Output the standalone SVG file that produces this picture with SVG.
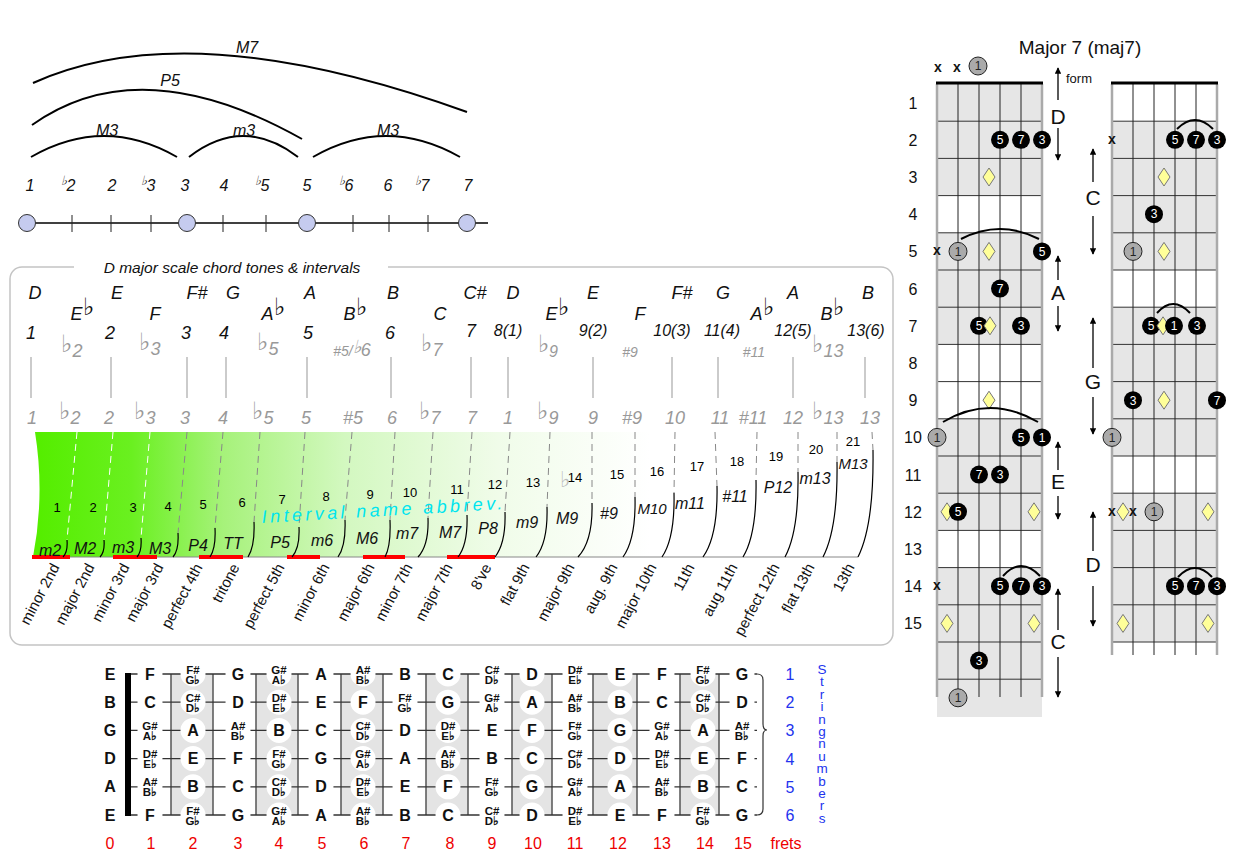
<svg xmlns="http://www.w3.org/2000/svg" width="1242" height="858" viewBox="0 0 1242 858">
<defs>
<style>
text{font-family:"Liberation Sans",Arial,sans-serif}
.ri{font-style:italic;font-size:16px;fill:#111;text-anchor:middle}
.arc{fill:none;stroke:#000;stroke-width:2}
.tick{stroke:#222;stroke-width:1}
.dot{fill:#c5cbef;stroke:#333;stroke-width:1}
.nn{font-style:italic;font-size:18px;fill:#111;text-anchor:middle}
.nc{font-style:italic;font-size:16px;fill:#111;text-anchor:middle}
.gr{font-style:italic;font-size:18px;fill:#999;text-anchor:middle}
.grs{font-style:italic;font-size:14px;fill:#999;text-anchor:middle}
.fl{font-size:24px;font-style:normal}
.vl{stroke:#bbb;stroke-width:1.5}
.dash{stroke:#888;stroke-width:1;stroke-dasharray:7 5;fill:none}
.dashw{stroke:#fff;stroke-width:1;stroke-dasharray:7 5;fill:none}
.sol{stroke:#000;stroke-width:1.2;fill:none}
.sn{font-size:13px;fill:#000;text-anchor:middle}
.ab{font-style:italic;font-size:16px;fill:#111;text-anchor:middle}
.fn{font-size:15px;fill:#111;text-anchor:end}
.red{stroke:#f00;stroke-width:4}
.fb{font-weight:bold;font-size:16px;fill:#111;text-anchor:middle}
.fs{font-weight:bold;font-size:11.5px;fill:#111;text-anchor:middle}
.fnum{font-size:16px;fill:#e00;text-anchor:middle}
.blu{font-size:16px;fill:#2233ee;text-anchor:middle}
.rn{font-size:16px;fill:#111;text-anchor:middle}
.bk circle{fill:#000}
.bk text{fill:#fff;font-size:12px;text-anchor:middle}
.gy circle{fill:#aaa;stroke:#222;stroke-width:1}
.gy text{fill:#222;font-size:12px;text-anchor:middle}
.xm{font-weight:bold;font-size:14px;fill:#111;text-anchor:middle}
.big{font-size:21px;fill:#111;text-anchor:middle}
.ar{stroke:#000;stroke-width:1.3;marker-end:url(#ah)}
.gl{stroke:#333;stroke-width:1;fill:none}
</style>
<linearGradient id="grn" gradientUnits="userSpaceOnUse" x1="40" y1="0" x2="650" y2="0">
<stop offset="0" stop-color="#55ee00"/>
<stop offset="0.15" stop-color="#6af020"/>
<stop offset="0.3" stop-color="#a6f27a"/>
<stop offset="0.5" stop-color="#d3f8c0"/>
<stop offset="0.75" stop-color="#f0fce9"/>
<stop offset="1" stop-color="#ffffff"/>
</linearGradient>
<marker id="ah" viewBox="0 0 10 10" refX="9" refY="5" markerWidth="5" markerHeight="5" orient="auto"><path d="M0,0L10,5L0,10z" fill="#000"/></marker>
<polygon id="dia" points="0,-9 6,0 0,9 -6,0" fill="#ffff99" stroke="#777" stroke-width="1"/>
</defs>
<rect width="1242" height="858" fill="#fff"/>

<g id="interval-ruler">
<path class="arc" d="M33,83 Q190,12 467,112"/>
<path class="arc" d="M32,125 Q140,48 302,139"/>
<path class="arc" d="M31,157 Q104,115 177,157"/>
<path class="arc" d="M189,157 Q243,115 298,157"/>
<path class="arc" d="M313,157 Q386,115 460,157"/>
<text class="ri" x="247" y="53">M7</text>
<text class="ri" x="170" y="86">P5</text>
<text class="ri" x="107" y="136">M3</text>
<text class="ri" x="244" y="136">m3</text>
<text class="ri" x="388" y="136">M3</text>
<text class="ri" x="30" y="191">1</text>
<text class="ri" x="68" y="191"><tspan font-size="13" dy="-6">♭</tspan><tspan dy="6">2</tspan></text>
<text class="ri" x="112" y="191">2</text>
<text class="ri" x="148" y="191"><tspan font-size="13" dy="-6">♭</tspan><tspan dy="6">3</tspan></text>
<text class="ri" x="185" y="191">3</text>
<text class="ri" x="224" y="191">4</text>
<text class="ri" x="262" y="191"><tspan font-size="13" dy="-6">♭</tspan><tspan dy="6">5</tspan></text>
<text class="ri" x="307" y="191">5</text>
<text class="ri" x="346" y="191"><tspan font-size="13" dy="-6">♭</tspan><tspan dy="6">6</tspan></text>
<text class="ri" x="388" y="191">6</text>
<text class="ri" x="422" y="191"><tspan font-size="13" dy="-6">♭</tspan><tspan dy="6">7</tspan></text>
<text class="ri" x="468" y="191">7</text>
<line x1="27" y1="223" x2="488" y2="223" stroke="#000" stroke-width="1.5"/>
<path class="tick" d="M72,215V232M111,215V232M151,215V232M223,215V232M266,215V232M353,215V232M389,215V232M428,215V232"/>
<circle class="dot" cx="27" cy="223" r="8.5"/>
<circle class="dot" cx="187" cy="223" r="8.5"/>
<circle class="dot" cx="307" cy="223" r="8.5"/>
<circle class="dot" cx="467" cy="223" r="8.5"/>
</g>

<g id="scale-box">
<rect x="10" y="267" width="883" height="378" rx="12" fill="none" stroke="#c4c4c4" stroke-width="1.5"/>
<rect x="74" y="258" width="314" height="18" fill="#fff"/>
<text x="232" y="273" style="font-style:italic;font-size:15.5px;fill:#111;text-anchor:middle">D major scale chord tones &amp; intervals</text>

<text class="nn" x="35" y="299">D</text>
<text class="nn" x="117" y="299">E</text>
<text class="nn" x="197" y="299">F#</text>
<text class="nn" x="233" y="299">G</text>
<text class="nn" x="310" y="299">A</text>
<text class="nn" x="393" y="299">B</text>
<text class="nn" x="475" y="299">C#</text>
<text class="nn" x="513" y="299">D</text>
<text class="nn" x="593" y="299">E</text>
<text class="nn" x="682" y="299">F#</text>
<text class="nn" x="723" y="299">G</text>
<text class="nn" x="793" y="299">A</text>
<text class="nn" x="868" y="299">B</text>

<text class="nn" x="82" y="320">E<tspan class="fl" dy="-5">♭</tspan></text>
<text class="nn" x="155" y="320">F</text>
<text class="nn" x="273" y="320">A<tspan class="fl" dy="-5">♭</tspan></text>
<text class="nn" x="355" y="320">B<tspan class="fl" dy="-5">♭</tspan></text>
<text class="nn" x="440" y="320">C</text>
<text class="nn" x="557" y="320">E<tspan class="fl" dy="-5">♭</tspan></text>
<text class="nn" x="640" y="320">F</text>
<text class="nn" x="762" y="320">A<tspan class="fl" dy="-5">♭</tspan></text>
<text class="nn" x="832" y="320">B<tspan class="fl" dy="-5">♭</tspan></text>

<text class="nn" x="31" y="339">1</text>
<text class="nn" x="110" y="339">2</text>
<text class="nn" x="186" y="339">3</text>
<text class="nn" x="224" y="339">4</text>
<text class="nn" x="308" y="339">5</text>
<text class="nn" x="390" y="339">6</text>
<text class="nn" x="471" y="337">7</text>
<text class="nc" x="508" y="336">8(1)</text>
<text class="nc" x="593" y="336">9(2)</text>
<text class="nc" x="672" y="336">10(3)</text>
<text class="nc" x="722" y="336">11(4)</text>
<text class="nc" x="793" y="336">12(5)</text>
<text class="nc" x="866" y="336">13(6)</text>

<text class="gr" x="72" y="357"><tspan class="fl" dy="-5">♭</tspan><tspan dy="5">2</tspan></text>
<text class="gr" x="150" y="355"><tspan class="fl" dy="-5">♭</tspan><tspan dy="5">3</tspan></text>
<text class="gr" x="268" y="355"><tspan class="fl" dy="-5">♭</tspan><tspan dy="5">5</tspan></text>
<text class="grs" x="352" y="356">#5/<tspan dy="-3" font-size="18px">♭</tspan><tspan dy="3" font-size="18">6</tspan></text>
<text class="gr" x="432" y="356"><tspan class="fl" dy="-5">♭</tspan><tspan dy="5">7</tspan></text>
<text class="gr" x="548" y="357"><tspan class="fl" dy="-5">♭</tspan><tspan dy="5" font-size="16">9</tspan></text>
<text class="grs" x="630" y="357">#9</text>
<text class="grs" x="754" y="357">#11</text>
<text class="gr" x="828" y="357"><tspan class="fl" dy="-5">♭</tspan><tspan dy="5">13</tspan></text>

<path class="vl" d="M31,357V398M111,357V398M187,357V398M226,357V398M307,357V398M391,357V398M471,357V398M508,357V398M593,357V398M672,357V398M718,357V398M793,357V398M865,357V398"/>

<text class="gr" x="32" y="424">1</text>
<text class="gr" x="70" y="424"><tspan class="fl" dy="-5">♭</tspan><tspan dy="5">2</tspan></text>
<text class="gr" x="109" y="424">2</text>
<text class="gr" x="145" y="424"><tspan class="fl" dy="-5">♭</tspan><tspan dy="5">3</tspan></text>
<text class="gr" x="185" y="424">3</text>
<text class="gr" x="223" y="424">4</text>
<text class="gr" x="263" y="424"><tspan class="fl" dy="-5">♭</tspan><tspan dy="5">5</tspan></text>
<text class="gr" x="306" y="424">5</text>
<text class="gr" x="353" y="424">#5</text>
<text class="gr" x="392" y="424">6</text>
<text class="gr" x="430" y="424"><tspan class="fl" dy="-5">♭</tspan><tspan dy="5">7</tspan></text>
<text class="gr" x="472" y="424">7</text>
<text class="gr" x="508" y="424">1</text>
<text class="gr" x="548" y="424"><tspan class="fl" dy="-5">♭</tspan><tspan dy="5">9</tspan></text>
<text class="gr" x="593" y="424">9</text>
<text class="gr" x="632" y="424">#9</text>
<text class="gr" x="675" y="424">10</text>
<text class="gr" x="720" y="424">11</text>
<text class="gr" x="753" y="424">#11</text>
<text class="gr" x="793" y="424">12</text>
<text class="gr" x="828" y="424"><tspan class="fl" dy="-5">♭</tspan><tspan dy="5">13</tspan></text>
<text class="gr" x="870" y="424">13</text>
</g>

<g id="interval-fan">
<path d="M35,432 L880,432 L880,557 L33,557 Q45,495 35,432 Z" fill="url(#grn)"/>
<line x1="33" y1="557" x2="858" y2="557" stroke="#888" stroke-width="1"/>
<path class="red" d="M32,557H70M113,557H157M199,557H243M287,557H320M363,557H405M447,557H495"/>
<path class="dashw" d="M77,432L67,540M113,432L104,540M150,432L141,538"/>
<path class="dash" d="M187,432L178,533M223,432L215,528M260,432L254,522M305,432L299,527M352,432L345,520M395,432L390,520M433,432L428,518M472,432L467,515M510,432L505,512M550,432L547,507M592,432L592,503M635,432L635,497M675,432L674,493M715,432L717,486M757,432L756,480M798,432L798,472M837,432L837,462M872,432L873,450"/>
<path class="sol" d="M67,540Q68,552 63,557M104,540Q105,552 100,557M141,538Q142,551 137,557M178,533Q179,550 173,557M215,528Q216,548 210,557M254,522Q255,546 248,557M299,527Q300,548 292,557M345,520Q346,546 338,557M390,520Q391,546 385,557M428,518Q429,545 418,557M467,515Q468,544 458,557M505,512Q506,543 495,557M547,507Q548,542 536,557M592,503Q593,541 578,557M635,497Q636,539 623,557M674,493Q675,538 662,557M717,486Q718,536 703,557M756,480Q757,534 743,557M798,472Q799,531 785,557M837,462Q838,528 823,557M873,450Q874,525 858,557"/>
<text class="sn" x="57" y="512">1</text>
<text class="sn" x="93" y="512">2</text>
<text class="sn" x="133" y="512">3</text>
<text class="sn" x="168" y="511">4</text>
<text class="sn" x="203" y="509">5</text>
<text class="sn" x="242" y="507">6</text>
<text class="sn" x="282" y="504">7</text>
<text class="sn" x="326" y="501">8</text>
<text class="sn" x="370" y="499">9</text>
<text class="sn" x="410" y="497">10</text>
<text class="sn" x="457" y="494">11</text>
<text class="sn" x="495" y="489">12</text>
<text class="sn" x="533" y="487">13</text>
<text x="565" y="487" style="font-size:22px;fill:#bbb;text-anchor:middle">♭</text>
<text class="sn" x="575" y="482">14</text>
<text class="sn" x="617" y="479">15</text>
<text class="sn" x="657" y="476">16</text>
<text class="sn" x="697" y="471">17</text>
<text class="sn" x="737" y="466">18</text>
<text class="sn" x="776" y="461">19</text>
<text class="sn" x="816" y="454">20</text>
<text class="sn" x="853" y="446">21</text>
<text x="384" y="516" transform="rotate(-3.3 384 516)" style="font-style:italic;font-size:18px;fill:#00e5ee;text-anchor:middle;letter-spacing:3.4px">Interval name abbrev.</text>
<text class="ab" x="50" y="556">m2</text>
<text class="ab" x="85" y="554">M2</text>
<text class="ab" x="123" y="553">m3</text>
<text class="ab" x="160" y="554">M3</text>
<text class="ab" x="198" y="551">P4</text>
<text class="ab" x="233" y="549">TT</text>
<text class="ab" x="280" y="548">P5</text>
<text class="ab" x="322" y="546">m6</text>
<text class="ab" x="367" y="544">M6</text>
<text class="ab" x="407" y="539">m7</text>
<text class="ab" x="450" y="538">M7</text>
<text class="ab" x="488" y="534">P8</text>
<text class="ab" x="527" y="528">m9</text>
<text class="ab" x="567" y="524">M9</text>
<text class="ab" x="609" y="519">#9</text>
<text class="ab" x="652" y="514" style="font-size:15px">M10</text>
<text class="ab" x="690" y="509">m11</text>
<text class="ab" x="735" y="502">#11</text>
<text class="ab" x="778" y="493">P12</text>
<text class="ab" x="815" y="484">m13</text>
<text class="ab" x="853" y="469" style="font-size:15px">M13</text>
<text class="fn" transform="translate(60,567) rotate(-62)">minor 2nd</text>
<text class="fn" transform="translate(95,567) rotate(-62)">major 2nd</text>
<text class="fn" transform="translate(130,567) rotate(-62)">minor 3rd</text>
<text class="fn" transform="translate(164,567) rotate(-62)">major 3rd</text>
<text class="fn" transform="translate(203,567) rotate(-62)">perfect 4th</text>
<text class="fn" transform="translate(240,567) rotate(-62)">tritone</text>
<text class="fn" transform="translate(285,567) rotate(-62)">perfect 5th</text>
<text class="fn" transform="translate(330,567) rotate(-62)">minor 6th</text>
<text class="fn" transform="translate(375,567) rotate(-62)">major 6th</text>
<text class="fn" transform="translate(413,567) rotate(-62)">minor 7th</text>
<text class="fn" transform="translate(453,567) rotate(-62)">major 7th</text>
<text class="fn" transform="translate(492,567) rotate(-62)">8've</text>
<text class="fn" transform="translate(530,567) rotate(-62)">flat 9th</text>
<text class="fn" transform="translate(575,567) rotate(-62)">major 9th</text>
<text class="fn" transform="translate(618,567) rotate(-62)">aug. 9th</text>
<text class="fn" transform="translate(657,567) rotate(-62)">major 10th</text>
<text class="fn" transform="translate(695,567) rotate(-62)">11th</text>
<text class="fn" transform="translate(738,567) rotate(-62)">aug 11th</text>
<text class="fn" transform="translate(780,567) rotate(-62)">perfect 12th</text>
<text class="fn" transform="translate(815,567) rotate(-62)">flat 13th</text>
<text class="fn" transform="translate(855,567) rotate(-62)">13th</text>
</g>

<g id="fretboard">
<path fill="#e4e4e4" d="M171,674H213V815H171ZM256,674H298V815H256ZM341,674H383V815H341ZM426,674H468V815H426ZM512,674H552V815H512ZM593,674H637V815H593ZM680,674H719V815H680Z"/>
<path stroke="#555" stroke-width="1.5" d="M171,674V815M213,674V815M256,674V815M298,674V815M341,674V815M383,674V815M426,674V815M468,674V815M512,674V815M552,674V815M593,674V815M637,674V815M680,674V815M719,674V815"/>
<path stroke="#333" stroke-width="1.3" d="M128,674H757M128,702.2H757M128,730.4H757M128,758.6H757M128,786.8H757M128,815H757"/>
<path fill="none" stroke="#333" stroke-width="1.2" d="M757,674q6,0 6,6v44q0,6 4,6q-4,0 -4,6v73q0,6 -6,6"/>
<path stroke="#fff" stroke-width="25" stroke-linecap="round" stroke-dasharray="0 28.2" d="M150,674V816M193,674V816M238,674V816M279,674V816M321,674V816M363,674V816M405,674V816M448,674V816M492,674V816M532,674V816M575,674V816M620,674V816M662,674V816M703,674V816M742,674V816"/>
<rect x="125" y="673" width="6" height="143" fill="#000"/>
<text class="fb" x="110" y="680">E</text>
<text class="fb" x="110" y="708">B</text>
<text class="fb" x="110" y="736">G</text>
<text class="fb" x="110" y="764">D</text>
<text class="fb" x="110" y="792">A</text>
<text class="fb" x="110" y="821">E</text>

<text class="fb" x="150" y="680">F</text>
<text class="fs" x="193" y="674">F#</text><text class="fs" x="193" y="684">G♭</text>
<text class="fb" x="238" y="680">G</text>
<text class="fs" x="279" y="674">G#</text><text class="fs" x="279" y="684">A♭</text>
<text class="fb" x="321" y="680">A</text>
<text class="fs" x="363" y="674">A#</text><text class="fs" x="363" y="684">B♭</text>
<text class="fb" x="405" y="680">B</text>
<text class="fb" x="448" y="680">C</text>
<text class="fs" x="492" y="674">C#</text><text class="fs" x="492" y="684">D♭</text>
<text class="fb" x="532" y="680">D</text>
<text class="fs" x="575" y="674">D#</text><text class="fs" x="575" y="684">E♭</text>
<text class="fb" x="620" y="680">E</text>
<text class="fb" x="662" y="680">F</text>
<text class="fs" x="703" y="674">F#</text><text class="fs" x="703" y="684">G♭</text>
<text class="fb" x="742" y="680">G</text>

<text class="fb" x="150" y="708">C</text>
<text class="fs" x="193" y="702">C#</text><text class="fs" x="193" y="712">D♭</text>
<text class="fb" x="238" y="708">D</text>
<text class="fs" x="279" y="702">D#</text><text class="fs" x="279" y="712">E♭</text>
<text class="fb" x="321" y="708">E</text>
<text class="fb" x="363" y="708">F</text>
<text class="fs" x="405" y="702">F#</text><text class="fs" x="405" y="712">G♭</text>
<text class="fb" x="448" y="708">G</text>
<text class="fs" x="492" y="702">G#</text><text class="fs" x="492" y="712">A♭</text>
<text class="fb" x="532" y="708">A</text>
<text class="fs" x="575" y="702">A#</text><text class="fs" x="575" y="712">B♭</text>
<text class="fb" x="620" y="708">B</text>
<text class="fb" x="662" y="708">C</text>
<text class="fs" x="703" y="702">C#</text><text class="fs" x="703" y="712">D♭</text>
<text class="fb" x="742" y="708">D</text>

<text class="fs" x="150" y="730">G#</text><text class="fs" x="150" y="740">A♭</text>
<text class="fb" x="193" y="736">A</text>
<text class="fs" x="238" y="730">A#</text><text class="fs" x="238" y="740">B♭</text>
<text class="fb" x="279" y="736">B</text>
<text class="fb" x="321" y="736">C</text>
<text class="fs" x="363" y="730">C#</text><text class="fs" x="363" y="740">D♭</text>
<text class="fb" x="405" y="736">D</text>
<text class="fs" x="448" y="730">D#</text><text class="fs" x="448" y="740">E♭</text>
<text class="fb" x="492" y="736">E</text>
<text class="fb" x="532" y="736">F</text>
<text class="fs" x="575" y="730">F#</text><text class="fs" x="575" y="740">G♭</text>
<text class="fb" x="620" y="736">G</text>
<text class="fs" x="662" y="730">G#</text><text class="fs" x="662" y="740">A♭</text>
<text class="fb" x="703" y="736">A</text>
<text class="fs" x="742" y="730">A#</text><text class="fs" x="742" y="740">B♭</text>

<text class="fs" x="150" y="758">D#</text><text class="fs" x="150" y="768">E♭</text>
<text class="fb" x="193" y="764">E</text>
<text class="fb" x="238" y="764">F</text>
<text class="fs" x="279" y="758">F#</text><text class="fs" x="279" y="768">G♭</text>
<text class="fb" x="321" y="764">G</text>
<text class="fs" x="363" y="758">G#</text><text class="fs" x="363" y="768">A♭</text>
<text class="fb" x="405" y="764">A</text>
<text class="fs" x="448" y="758">A#</text><text class="fs" x="448" y="768">B♭</text>
<text class="fb" x="492" y="764">B</text>
<text class="fb" x="532" y="764">C</text>
<text class="fs" x="575" y="758">C#</text><text class="fs" x="575" y="768">D♭</text>
<text class="fb" x="620" y="764">D</text>
<text class="fs" x="662" y="758">D#</text><text class="fs" x="662" y="768">E♭</text>
<text class="fb" x="703" y="764">E</text>
<text class="fb" x="742" y="764">F</text>

<text class="fs" x="150" y="786">A#</text><text class="fs" x="150" y="796">B♭</text>
<text class="fb" x="193" y="792">B</text>
<text class="fb" x="238" y="792">C</text>
<text class="fs" x="279" y="786">C#</text><text class="fs" x="279" y="796">D♭</text>
<text class="fb" x="321" y="792">D</text>
<text class="fs" x="363" y="786">D#</text><text class="fs" x="363" y="796">E♭</text>
<text class="fb" x="405" y="792">E</text>
<text class="fb" x="448" y="792">F</text>
<text class="fs" x="492" y="786">F#</text><text class="fs" x="492" y="796">G♭</text>
<text class="fb" x="532" y="792">G</text>
<text class="fs" x="575" y="786">G#</text><text class="fs" x="575" y="796">A♭</text>
<text class="fb" x="620" y="792">A</text>
<text class="fs" x="662" y="786">A#</text><text class="fs" x="662" y="796">B♭</text>
<text class="fb" x="703" y="792">B</text>
<text class="fb" x="742" y="792">C</text>

<text class="fb" x="150" y="821">F</text>
<text class="fs" x="193" y="815">F#</text><text class="fs" x="193" y="825">G♭</text>
<text class="fb" x="238" y="821">G</text>
<text class="fs" x="279" y="815">G#</text><text class="fs" x="279" y="825">A♭</text>
<text class="fb" x="321" y="821">A</text>
<text class="fs" x="363" y="815">A#</text><text class="fs" x="363" y="825">B♭</text>
<text class="fb" x="405" y="821">B</text>
<text class="fb" x="448" y="821">C</text>
<text class="fs" x="492" y="815">C#</text><text class="fs" x="492" y="825">D♭</text>
<text class="fb" x="532" y="821">D</text>
<text class="fs" x="575" y="815">D#</text><text class="fs" x="575" y="825">E♭</text>
<text class="fb" x="620" y="821">E</text>
<text class="fb" x="662" y="821">F</text>
<text class="fs" x="703" y="815">F#</text><text class="fs" x="703" y="825">G♭</text>
<text class="fb" x="742" y="821">G</text>

<text class="fnum" x="110" y="849">0</text>
<text class="fnum" x="151" y="849">1</text>
<text class="fnum" x="193" y="849">2</text>
<text class="fnum" x="238" y="849">3</text>
<text class="fnum" x="279" y="849">4</text>
<text class="fnum" x="322" y="849">5</text>
<text class="fnum" x="364" y="849">6</text>
<text class="fnum" x="406" y="849">7</text>
<text class="fnum" x="450" y="849">8</text>
<text class="fnum" x="492" y="849">9</text>
<text class="fnum" x="533" y="849">10</text>
<text class="fnum" x="575" y="849">11</text>
<text class="fnum" x="618" y="849">12</text>
<text class="fnum" x="662" y="849">13</text>
<text class="fnum" x="705" y="849">14</text>
<text class="fnum" x="743" y="849">15</text>
<text class="fnum" x="786" y="849">frets</text>

<text class="blu" x="790" y="680">1</text>
<text class="blu" x="790" y="708">2</text>
<text class="blu" x="790" y="736">3</text>
<text class="blu" x="790" y="765">4</text>
<text class="blu" x="790" y="793">5</text>
<text class="blu" x="790" y="821">6</text>
<text x="822" y="662" style="writing-mode:vertical-rl;text-orientation:upright;font-size:13.5px;letter-spacing:-2.6px;fill:#2233ee">Stringnumbers</text>
</g>

<g id="chord-title">
<text x="1080" y="54" style="font-size:19px;fill:#111;text-anchor:middle">Major 7 (maj7)</text>
</g>

<g id="fret-numbers">
<text class="rn" x="913" y="109">1</text>
<text class="rn" x="913" y="146">2</text>
<text class="rn" x="913" y="183">3</text>
<text class="rn" x="913" y="220">4</text>
<text class="rn" x="913" y="257">5</text>
<text class="rn" x="913" y="295">6</text>
<text class="rn" x="913" y="332">7</text>
<text class="rn" x="913" y="369">8</text>
<text class="rn" x="913" y="406">9</text>
<text class="rn" x="913" y="443">10</text>
<text class="rn" x="913" y="481">11</text>
<text class="rn" x="913" y="518">12</text>
<text class="rn" x="913" y="555">13</text>
<text class="rn" x="913" y="592">14</text>
<text class="rn" x="913" y="629">15</text>
</g>

<g id="chord-left">
<rect x="937" y="84" width="105" height="633" fill="#e6e6e6"/>
<path fill="#fff" d="M937,195.6H1042V232.8H937ZM937,344.4H1042V418.8H937ZM937,530.4H1042V567.6H937Z"/>
<path class="gl" d="M937,121.2H1042M937,158.4H1042M937,195.6H1042M937,232.8H1042M937,270H1042M937,307.2H1042M937,344.4H1042M937,381.6H1042M937,418.8H1042M937,456H1042M937,493.2H1042M937,530.4H1042M937,567.6H1042M937,604.8H1042M937,642H1042M937,679.2H1042"/>
<path stroke="#222" stroke-width="1" d="M958,84V697M979,84V697M1000,84V697M1021,84V697"/>
<path stroke="#aaa" stroke-width="2.5" d="M937,84V697M1042,84V697"/>
<path stroke="#000" stroke-width="3" d="M936,83H1043"/>
<text class="xm" x="938" y="72">x</text>
<text class="xm" x="957" y="72">x</text>
<g class="gy"><circle cx="978" cy="66" r="9"/><text x="978" y="70">1</text></g>
<g class="bk"><circle cx="1000" cy="139.8" r="9"/><text x="1000" y="144">5</text><circle cx="1021" cy="139.8" r="9"/><text x="1021" y="144">7</text><circle cx="1042" cy="139.8" r="9"/><text x="1042" y="144">3</text></g>
<use href="#dia" x="989" y="177"/>
<text class="xm" x="937" y="255">x</text>
<g class="gy"><circle cx="958" cy="251.4" r="9"/><text x="958" y="256">1</text></g>
<use href="#dia" x="989" y="251.4"/>
<g class="bk"><circle cx="1042" cy="251.4" r="9"/><text x="1042" y="256">5</text></g>
<path class="arc" d="M961,239Q1000,219 1039,239"/>
<g class="bk"><circle cx="1000" cy="288.6" r="9"/><text x="1000" y="293">7</text></g>
<g class="bk"><circle cx="979" cy="325.8" r="9"/><text x="979" y="330">5</text><circle cx="1021" cy="325.8" r="9"/><text x="1021" y="330">3</text></g>
<use href="#dia" x="990" y="325.8"/>
<use href="#dia" x="989" y="400.2"/>
<path class="arc" d="M943,422Q990,394 1038,422"/>
<g class="gy"><circle cx="937" cy="437.4" r="9"/><text x="937" y="442">1</text></g>
<g class="bk"><circle cx="1021" cy="437.4" r="9"/><text x="1021" y="442">5</text><circle cx="1042" cy="437.4" r="9"/><text x="1042" y="442">1</text></g>
<g class="bk"><circle cx="979" cy="474.6" r="9"/><text x="979" y="479">7</text><circle cx="1000" cy="474.6" r="9"/><text x="1000" y="479">3</text></g>
<use href="#dia" x="947" y="511.8"/>
<g class="bk"><circle cx="958" cy="511.8" r="9"/><text x="958" y="516">5</text></g>
<use href="#dia" x="1034" y="511.8"/>
<text class="xm" x="937" y="590">x</text>
<path class="arc" d="M1003,576Q1021,556 1040,576"/>
<g class="bk"><circle cx="1000" cy="586.2" r="9"/><text x="1000" y="590">5</text><circle cx="1021" cy="586.2" r="9"/><text x="1021" y="590">7</text><circle cx="1042" cy="586.2" r="9"/><text x="1042" y="590">3</text></g>
<use href="#dia" x="947" y="623.4"/>
<use href="#dia" x="1034" y="623.4"/>
<g class="bk"><circle cx="979" cy="660.6" r="9"/><text x="979" y="665">3</text></g>
<g class="gy"><circle cx="958" cy="697.8" r="9"/><text x="958" y="702">1</text></g>
</g>

<g id="chord-left-labels">
<line class="ar" x1="1058" y1="100" x2="1058" y2="68"/>
<text x="1066" y="83" style="font-size:13px;fill:#111">form</text>
<text class="big" x="1058" y="124">D</text>
<line class="ar" x1="1058" y1="128" x2="1058" y2="160"/>
<line class="ar" x1="1058" y1="280" x2="1058" y2="256"/>
<text class="big" x="1058" y="300">A</text>
<line class="ar" x1="1058" y1="306" x2="1058" y2="331"/>
<line class="ar" x1="1058" y1="470" x2="1058" y2="442"/>
<text class="big" x="1058" y="489">E</text>
<line class="ar" x1="1058" y1="496" x2="1058" y2="519"/>
<line class="ar" x1="1058" y1="630" x2="1058" y2="589"/>
<text class="big" x="1058" y="649">C</text>
<line class="ar" x1="1058" y1="657" x2="1058" y2="697"/>
</g>

<g id="chord-right">
<rect x="1112" y="84" width="105" height="558" fill="#e6e6e6"/>
<path fill="#fff" d="M1112,84H1217V121.2H1112ZM1112,270H1217V307.2H1112ZM1112,456H1217V493.2H1112Z"/>
<path class="gl" d="M1112,121.2H1217M1112,158.4H1217M1112,195.6H1217M1112,232.8H1217M1112,270H1217M1112,307.2H1217M1112,344.4H1217M1112,381.6H1217M1112,418.8H1217M1112,456H1217M1112,493.2H1217M1112,530.4H1217M1112,567.6H1217M1112,604.8H1217M1112,642H1217"/>
<path stroke="#222" stroke-width="1" d="M1133,84V655M1154,84V655M1175,84V655M1196,84V655"/>
<path stroke="#aaa" stroke-width="2.5" d="M1112,84V655M1217,84V655"/>
<path stroke="#000" stroke-width="3" d="M1111,83H1218"/>
<text class="xm" x="1112" y="144">x</text>
<path class="arc" d="M1177,129Q1195,111 1213,129"/>
<g class="bk"><circle cx="1175" cy="139.8" r="9"/><text x="1175" y="144">5</text><circle cx="1196" cy="139.8" r="9"/><text x="1196" y="144">7</text><circle cx="1217" cy="139.8" r="9"/><text x="1217" y="144">3</text></g>
<use href="#dia" x="1164" y="177"/>
<g class="bk"><circle cx="1154" cy="214.2" r="9"/><text x="1154" y="218">3</text></g>
<g class="gy"><circle cx="1133" cy="251.4" r="9"/><text x="1133" y="256">1</text></g>
<use href="#dia" x="1164" y="251.4"/>
<path class="arc" d="M1157,313Q1173,295 1190,313"/>
<g class="bk"><circle cx="1151" cy="325.8" r="9"/><text x="1151" y="330">5</text></g>
<use href="#dia" x="1163" y="325.8"/>
<g class="bk"><circle cx="1174" cy="325.8" r="9"/><text x="1174" y="330">1</text><circle cx="1197" cy="325.8" r="9"/><text x="1197" y="330">3</text></g>
<g class="bk"><circle cx="1133" cy="400.2" r="9"/><text x="1133" y="405">3</text><circle cx="1217" cy="400.2" r="9"/><text x="1217" y="405">7</text></g>
<use href="#dia" x="1164" y="400.2"/>
<g class="gy"><circle cx="1112" cy="437.4" r="9"/><text x="1112" y="442">1</text></g>
<use href="#dia" x="1123" y="511.8"/>
<text class="xm" x="1112" y="516">x</text>
<text class="xm" x="1133" y="516">x</text>
<g class="gy"><circle cx="1154" cy="511.8" r="9"/><text x="1154" y="516">1</text></g>
<use href="#dia" x="1208" y="511.8"/>
<path class="arc" d="M1178,577Q1195,559 1212,577"/>
<g class="bk"><circle cx="1175" cy="586.2" r="9"/><text x="1175" y="590">5</text><circle cx="1196" cy="586.2" r="9"/><text x="1196" y="590">7</text><circle cx="1217" cy="586.2" r="9"/><text x="1217" y="590">3</text></g>
<use href="#dia" x="1123" y="623.4"/>
<use href="#dia" x="1208" y="623.4"/>
</g>

<g id="chord-right-labels">
<line class="ar" x1="1093" y1="182" x2="1093" y2="149"/>
<text class="big" x="1093" y="205">C</text>
<line class="ar" x1="1093" y1="216" x2="1093" y2="254"/>
<line class="ar" x1="1093" y1="368" x2="1093" y2="318"/>
<text class="big" x="1093" y="389">G</text>
<line class="ar" x1="1093" y1="397" x2="1093" y2="434"/>
<line class="ar" x1="1093" y1="551" x2="1093" y2="512"/>
<text class="big" x="1093" y="572">D</text>
<line class="ar" x1="1093" y1="586" x2="1093" y2="626"/>
</g>
</svg>
